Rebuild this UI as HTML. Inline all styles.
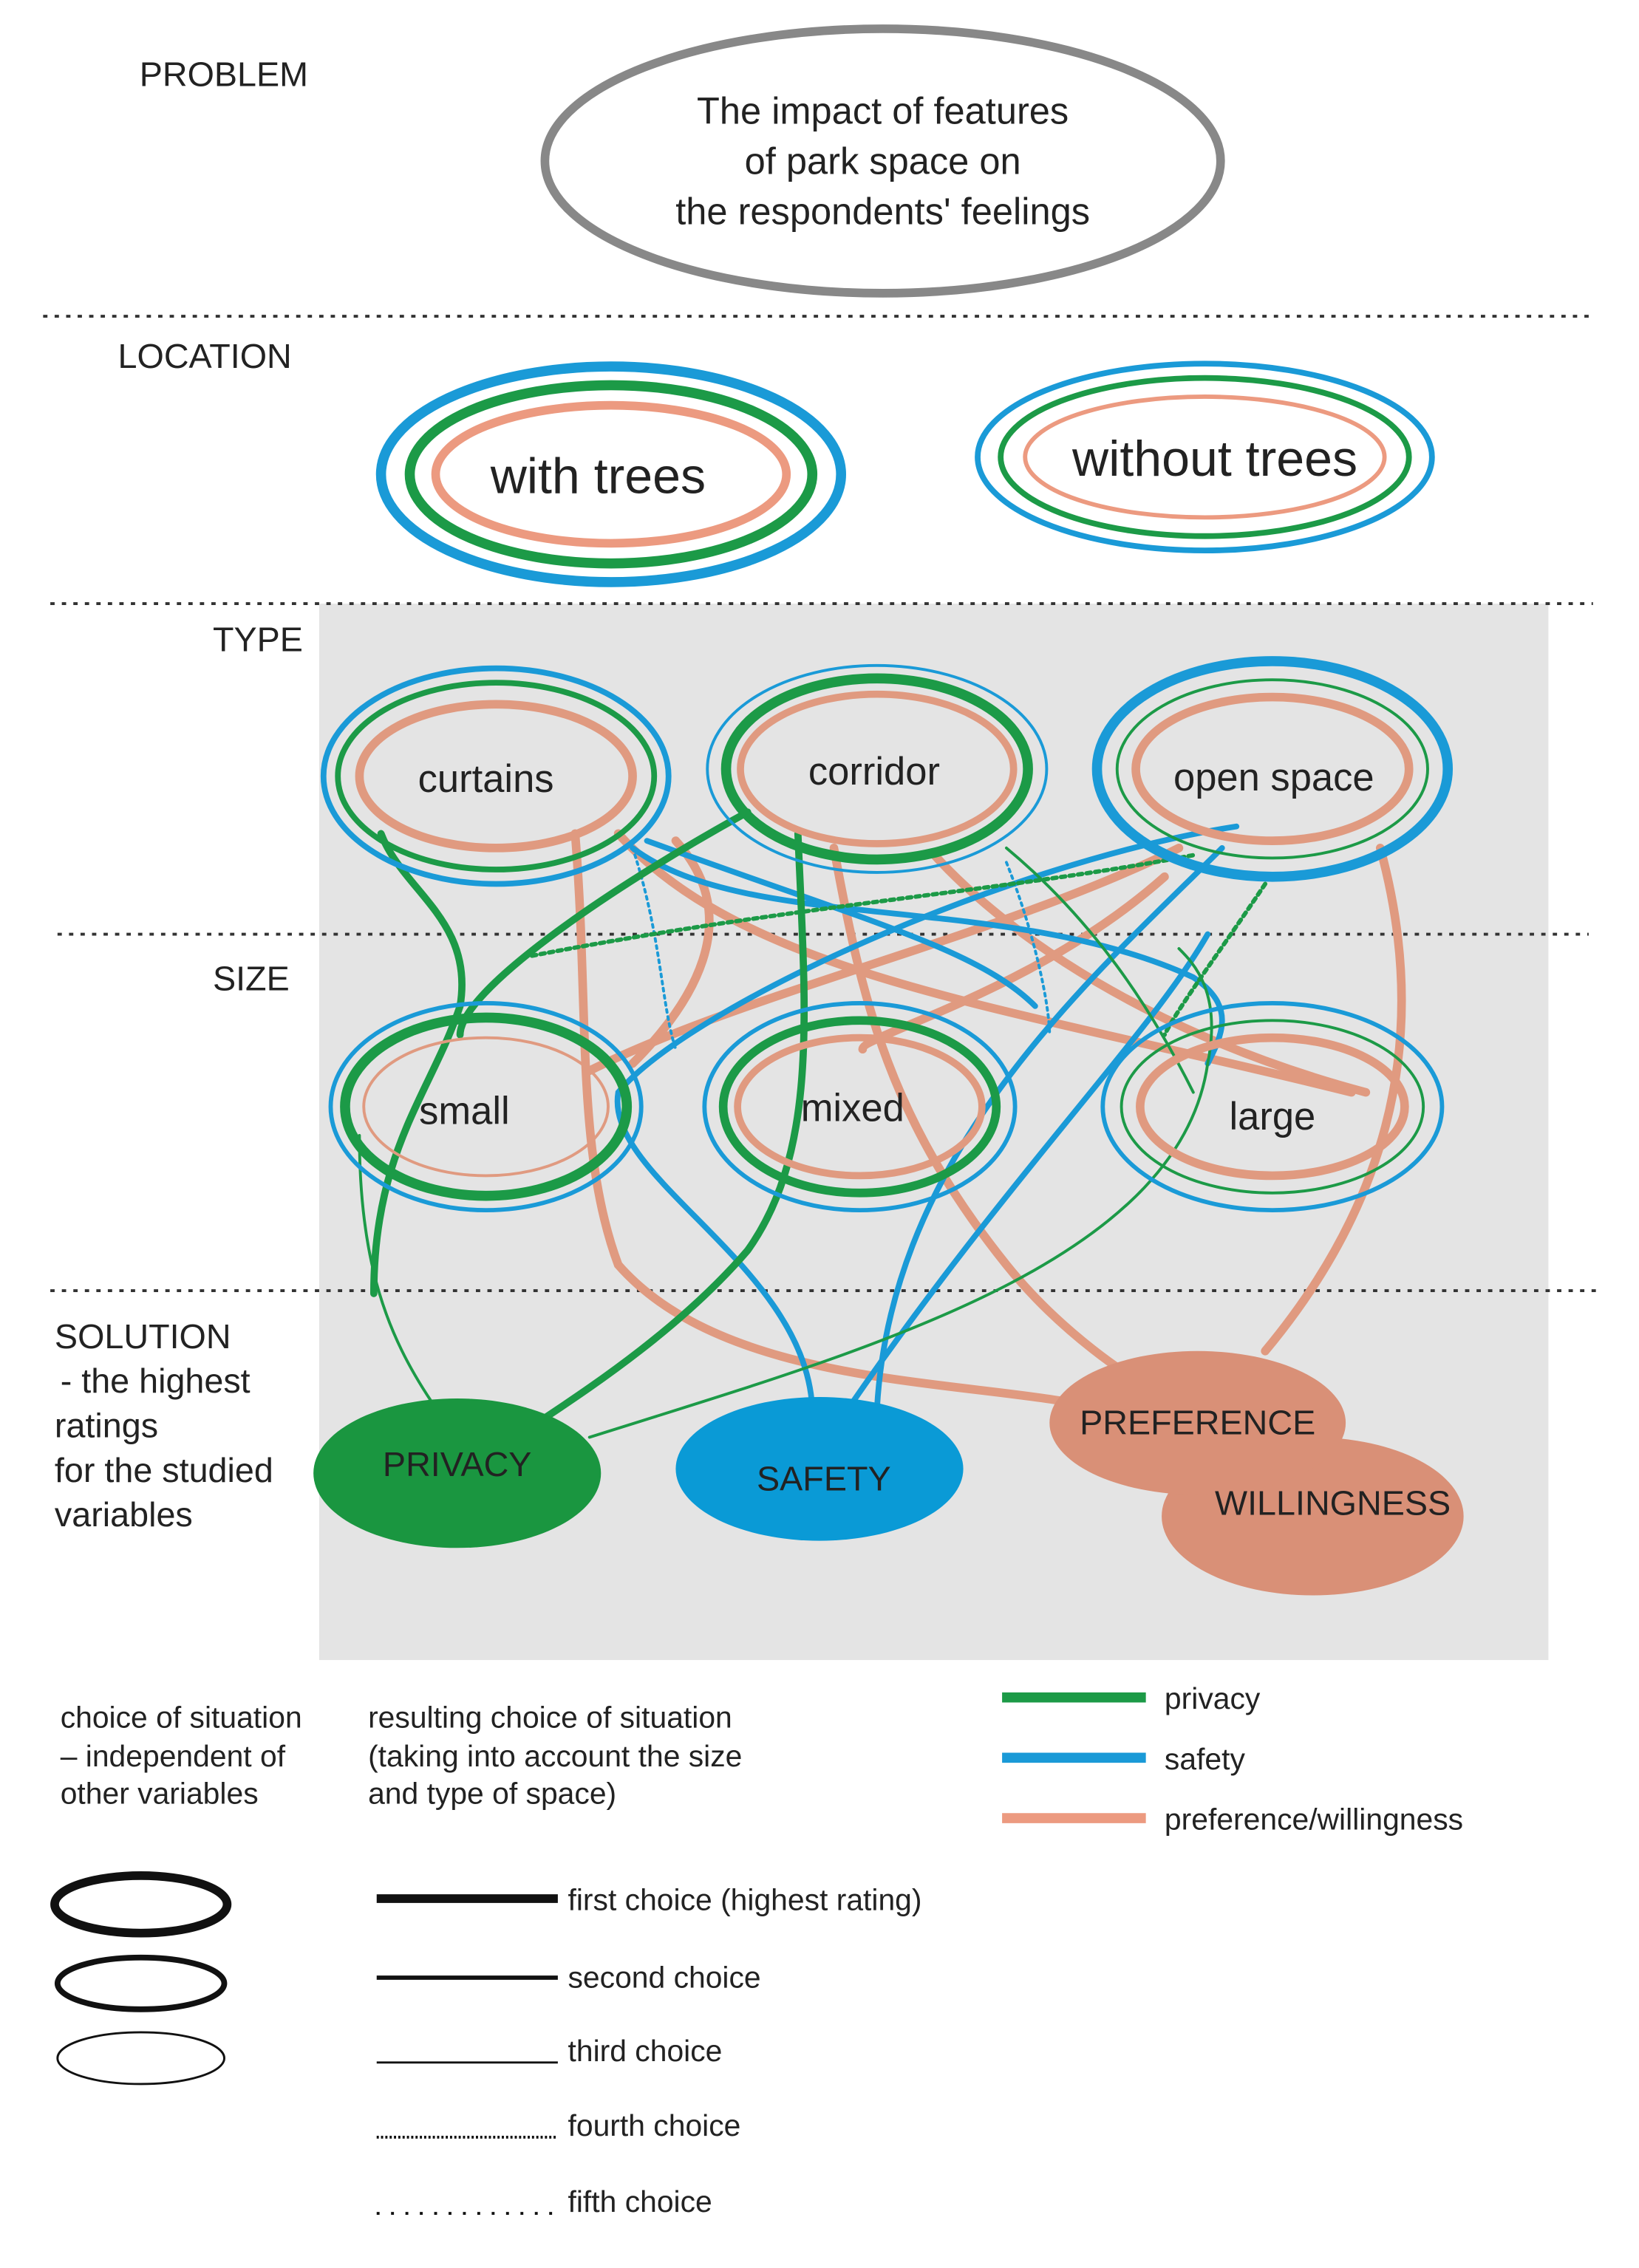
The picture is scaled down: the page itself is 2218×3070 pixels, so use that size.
<!DOCTYPE html>
<html><head><meta charset="utf-8"><style>html,body{margin:0;padding:0;background:#fff}svg{display:block}text{font-family:"Liberation Sans",sans-serif;fill:#222}</style></head>
<body>
<svg width="2218" height="3070" viewBox="0 0 1140 1578" preserveAspectRatio="none" xmlns="http://www.w3.org/2000/svg">
<rect x="222" y="420" width="855" height="735" fill="#e4e4e4"/>
<g stroke="#333" stroke-width="2" stroke-dasharray="3,5" fill="none">
<line x1="30" y1="220" x2="1105" y2="220"/><line x1="35" y1="420" x2="1108" y2="420"/>
<line x1="40" y1="650" x2="1105" y2="650"/><line x1="35" y1="898" x2="1112" y2="898"/>
</g>
<text x="97" y="60" font-size="24">PROBLEM</text>
<text x="82" y="256" font-size="24">LOCATION</text>
<text x="148" y="453" font-size="24">TYPE</text>
<text x="148" y="689" font-size="24">SIZE</text>
<g font-size="24"><text x="38" y="938">SOLUTION</text><text x="42" y="969"> - the highest</text><text x="38" y="1000">ratings</text><text x="38" y="1031">for the studied</text><text x="38" y="1062">variables</text></g>
<ellipse cx="614" cy="112" rx="235" ry="92" fill="none" stroke="#888" stroke-width="6"/>
<g font-size="26" text-anchor="middle"><text x="614" y="86">The impact of features</text><text x="614" y="121">of park space on</text><text x="614" y="156">the respondents' feelings</text></g>
<!-- location -->
<ellipse cx="425" cy="330" rx="160" ry="75" fill="none" stroke="#1a9ad7" stroke-width="7"/>
<ellipse cx="425" cy="330" rx="140" ry="62" fill="none" stroke="#1c9a47" stroke-width="7"/>
<ellipse cx="425" cy="330" rx="122" ry="48" fill="none" stroke="#ec9a80" stroke-width="6"/>
<text x="416" y="343" font-size="35" text-anchor="middle">with trees</text>
<ellipse cx="838" cy="318" rx="158" ry="65" fill="none" stroke="#1a9ad7" stroke-width="4"/>
<ellipse cx="838" cy="318" rx="142" ry="55" fill="none" stroke="#1c9a47" stroke-width="4"/>
<ellipse cx="838" cy="318" rx="125" ry="42" fill="none" stroke="#ec9a80" stroke-width="3"/>
<text x="845" y="331" font-size="35" text-anchor="middle">without trees</text>
<!-- connectors -->
<g fill="none" stroke-linecap="round">
<g stroke="#e09a80" stroke-width="6">
<path d="M400 580 C410 700 400 800 430 880 C500 960 650 960 740 975"/>
<path d="M430 580 C520 680 700 700 940 760"/>
<path d="M650 595 C700 650 800 720 950 760"/>
<path d="M580 590 C600 700 620 780 700 880 C740 930 790 960 790 960"/>
<path d="M820 590 C700 650 520 690 410 745"/>
<path d="M810 610 C720 690 600 720 600 730"/>
<path d="M960 590 C990 700 980 820 880 940"/>
<path d="M470 585 C520 640 480 700 440 740"/>
</g>
<g stroke="#1a9ad7" stroke-width="4">
<path d="M440 590 C520 650 700 620 830 680 C860 700 850 720 840 740"/>
<path d="M860 575 C700 600 480 700 430 760 C420 820 560 880 565 980"/>
<path d="M850 590 C760 680 620 800 610 980"/>
<path d="M840 650 C800 720 700 820 590 980"/>
<path d="M450 585 C600 640 680 660 720 700"/>
</g>
<g stroke="#1a9ad7" stroke-width="2" stroke-dasharray="2,3">
<path d="M440 590 C460 650 460 700 470 730"/><path d="M700 600 C720 650 730 700 730 720"/>
</g>
<g stroke="#1c9a47" stroke-width="5">
<path d="M265 580 C280 620 330 640 320 700 C300 760 260 800 260 900"/>
<path d="M520 565 C420 620 320 690 320 720"/>
<path d="M555 580 C560 700 570 800 520 870 C460 940 370 990 360 1000"/>
</g>
<g stroke="#1c9a47" stroke-width="2">
<path d="M250 790 C250 880 270 930 300 975"/>
<path d="M410 1000 C600 940 820 880 840 740 C850 690 830 670 820 660"/>
<path d="M700 590 C760 640 800 700 830 760"/>
</g>
<g stroke="#1c9a47" stroke-width="3" stroke-dasharray="3,3">
<path d="M370 665 C550 630 700 620 830 595"/><path d="M880 615 C850 660 820 700 810 720"/>
</g>
</g>
<!-- type -->
<g fill="none">
<ellipse cx="345" cy="540" rx="120" ry="75" stroke="#1a9ad7" stroke-width="4"/>
<ellipse cx="345" cy="540" rx="110" ry="65" stroke="#1c9a47" stroke-width="4"/>
<ellipse cx="345" cy="540" rx="95" ry="50" stroke="#e09a80" stroke-width="6"/>
<ellipse cx="610" cy="535" rx="118" ry="72" stroke="#1a9ad7" stroke-width="2"/>
<ellipse cx="610" cy="535" rx="105" ry="63" stroke="#1c9a47" stroke-width="7"/>
<ellipse cx="610" cy="535" rx="95" ry="52" stroke="#e09a80" stroke-width="5"/>
<ellipse cx="885" cy="535" rx="122" ry="75" stroke="#1a9ad7" stroke-width="7"/>
<ellipse cx="885" cy="535" rx="108" ry="62" stroke="#1c9a47" stroke-width="2"/>
<ellipse cx="885" cy="535" rx="95" ry="50" stroke="#e09a80" stroke-width="6"/>
<ellipse cx="338" cy="770" rx="108" ry="72" stroke="#1a9ad7" stroke-width="3"/>
<ellipse cx="338" cy="770" rx="98" ry="62" stroke="#1c9a47" stroke-width="7"/>
<ellipse cx="338" cy="770" rx="85" ry="48" stroke="#e09a80" stroke-width="2"/>
<ellipse cx="598" cy="770" rx="108" ry="72" stroke="#1a9ad7" stroke-width="3"/>
<ellipse cx="598" cy="770" rx="95" ry="60" stroke="#1c9a47" stroke-width="6"/>
<ellipse cx="598" cy="770" rx="85" ry="48" stroke="#e09a80" stroke-width="5"/>
<ellipse cx="885" cy="770" rx="118" ry="72" stroke="#1a9ad7" stroke-width="3"/>
<ellipse cx="885" cy="770" rx="105" ry="60" stroke="#1c9a47" stroke-width="2"/>
<ellipse cx="885" cy="770" rx="92" ry="48" stroke="#e09a80" stroke-width="6"/>
</g>
<g font-size="27" text-anchor="middle">
<text x="338" y="551">curtains</text><text x="608" y="546">corridor</text><text x="886" y="550">open space</text>
<text x="323" y="782">small</text><text x="593" y="780">mixed</text><text x="885" y="786">large</text>
</g>
<!-- solution -->
<ellipse cx="318" cy="1025" rx="100" ry="52" fill="#1a9640"/>
<ellipse cx="570" cy="1022" rx="100" ry="50" fill="#0a9ad6"/>
<ellipse cx="913" cy="1055" rx="105" ry="55" fill="#d99077"/>
<ellipse cx="833" cy="990" rx="103" ry="50" fill="#d99077"/>
<g font-size="24" text-anchor="middle"><text x="318" y="1027">PRIVACY</text><text x="573" y="1037">SAFETY</text><text x="833" y="998">PREFERENCE</text><text x="927" y="1054">WILLINGNESS</text></g>
<!-- legend -->
<g font-size="21"><text x="42" y="1202">choice of situation</text><text x="42" y="1229">– independent of</text><text x="42" y="1255">other variables</text>
<text x="256" y="1202">resulting choice of situation</text><text x="256" y="1229">(taking into account the size</text><text x="256" y="1255">and type of space)</text>
<text x="810" y="1189">privacy</text><text x="810" y="1231">safety</text><text x="810" y="1273">preference/willingness</text>
<text x="395" y="1329">first choice (highest rating)</text><text x="395" y="1383">second choice</text><text x="395" y="1434">third choice</text><text x="395" y="1486">fourth choice</text><text x="395" y="1539">fifth choice</text></g>
<line x1="697" y1="1181" x2="797" y2="1181" stroke="#1c9a47" stroke-width="7"/>
<line x1="697" y1="1223" x2="797" y2="1223" stroke="#1a9ad7" stroke-width="7"/>
<line x1="697" y1="1265" x2="797" y2="1265" stroke="#ec9a80" stroke-width="7"/>
<ellipse cx="98" cy="1325" rx="60" ry="20" fill="none" stroke="#111" stroke-width="6"/>
<ellipse cx="98" cy="1380" rx="58" ry="18" fill="none" stroke="#111" stroke-width="4"/>
<ellipse cx="98" cy="1432" rx="58" ry="18" fill="none" stroke="#111" stroke-width="1.5"/>
<line x1="262" y1="1321" x2="388" y2="1321" stroke="#111" stroke-width="6"/>
<line x1="262" y1="1376" x2="388" y2="1376" stroke="#111" stroke-width="3"/>
<line x1="262" y1="1435" x2="388" y2="1435" stroke="#111" stroke-width="1.5"/>
<line x1="262" y1="1487" x2="388" y2="1487" stroke="#111" stroke-width="2" stroke-dasharray="1.5,1.5"/>
<line x1="262" y1="1540" x2="388" y2="1540" stroke="#111" stroke-width="2" stroke-dasharray="2,8"/>
</svg>
</body></html>
